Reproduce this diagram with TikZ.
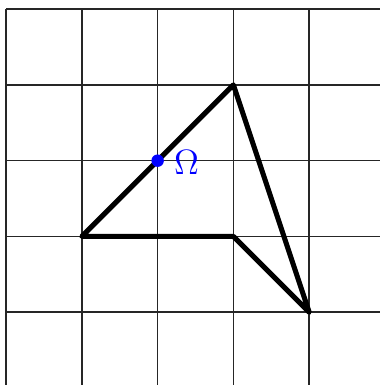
\documentclass[tikz,border=0pt]{standalone}
\begin{document}
\begin{tikzpicture}[
	gridline/.style={line width=0.6pt, black!85},
	edge/.style={line width=1.9pt, line join=round},
	centre/.style={fill=blue, color=blue}]
		\useasboundingbox (-0.08,0.04) rectangle (4.93,5.12);
		\draw[gridline] (0,0.04) grid (4.93,5);

		\coordinate (a) at (1,2);
		\coordinate (b) at (3,4);
		\coordinate (c) at (4,1);
		\coordinate (d) at (3,2);
		\draw[edge] (a) -- (b) -- (c) -- (d) -- cycle;

		\draw[centre] (2,3) circle (0.075);
		\node[blue, right=0pt, scale=1.1] (omega) at (2.08,2.97) {\large$\Omega$};
	\end{tikzpicture}
\end{document}
